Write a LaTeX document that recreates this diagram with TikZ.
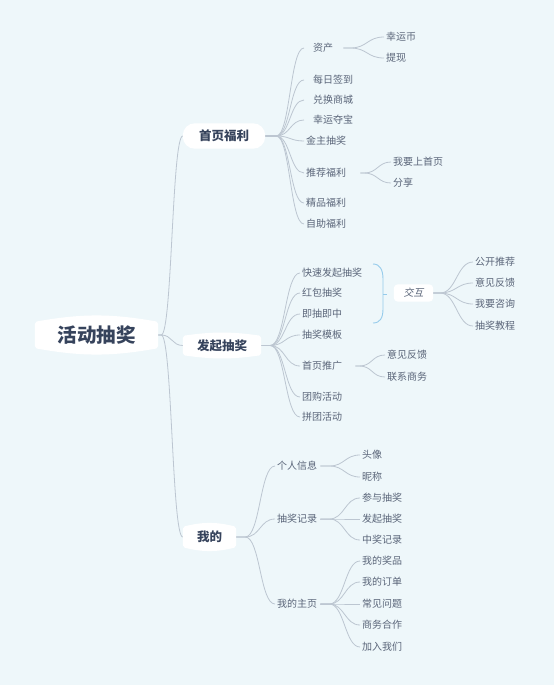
\documentclass[tikz,border=0pt]{standalone}
\usepackage{fontspec}
\setmainfont{Noto Sans CJK SC}[AutoFakeSlant=0.2]
\usetikzlibrary{backgrounds}

\definecolor{paper}{HTML}{EEF7FA}
\definecolor{wire}{HTML}{BCC6D1}
\definecolor{leafink}{HTML}{5A6579}
\definecolor{topicink}{HTML}{36435C}
\definecolor{summary}{HTML}{95CBEB}

\tikzset{
  leaf/.style={anchor=west, inner xsep=2pt, inner ysep=1pt, text=leafink,
    font=\fontsize{10}{12}\selectfont},
  pad/.style={execute at begin node={\hspace*{7pt}}},
  topic/.style={inner sep=0pt, text=topicink,
    font=\fontsize{12.5}{14}\selectfont\bfseries},
  wire/.style={draw=wire, line width=0.8pt},
  fan/.style={out=0, in=180, distance=#1}
}

% white topic box with bulging top and bottom
\newcommand\bulgebox[2]{%
  \fill[white, rounded corners=2pt] (#1.north west) to[bend left=#2] (#1.north east)
    -- (#1.south east) to[bend left=#2] (#1.south west) -- cycle;}

\begin{document}
\begin{tikzpicture}[x=1pt, y=-1pt]
  \useasboundingbox (0,0) rectangle (554,685);

  \node[topic, font=\fontsize{19.5}{22}\selectfont\bfseries,
    minimum width=123pt, minimum height=26pt] (root) at (96.5,335) {活动抽奖};
  \node[topic, minimum width=82pt, minimum height=25pt] (home) at (224,136) {首页福利};
  \node[topic, minimum width=78pt, minimum height=19pt] (launch) at (222,345.5) {发起抽奖};
  \node[topic, minimum width=53pt, minimum height=20pt] (mine) at (209.5,537) {我的};

  % 首页福利
  \foreach \n/\y/\t in {h1/48/资产, h2/80/每日签到, h3/100/兑换商城, h4/120/幸运夺宝}
    \node[leaf, pad] (\n) at (304,\y) {\t};
  \foreach \n/\y/\t in {h5/141/金主抽奖, h6/173/推荐福利, h7/203/精品福利, h8/224/自助福利}
    \node[leaf] (\n) at (304,\y) {\t};
  \node[leaf] (h11) at (384,37) {幸运币};
  \node[leaf] (h12) at (384,58) {提现};
  \node[leaf] (h61) at (391,162) {我要上首页};
  \node[leaf] (h62) at (391,183) {分享};

  % 发起抽奖
  \foreach \n/\y/\t in {l1/273/快速发起抽奖, l2/293/红包抽奖, l3/314/即抽即中,
      l4/335/抽奖模板, l5/366/首页推广, l6/397/团购活动, l7/417/拼团活动}
    \node[leaf] (\n) at (300,\y) {\t};
  \node[leaf] (l51) at (385,355) {意见反馈};
  \node[leaf] (l52) at (385,377) {联系商务};
  \node[leaf, anchor=center, font=\fontsize{10}{12}\selectfont\itshape,
    minimum width=39pt, minimum height=17pt] (hub) at (413.5,293) {交互};
  \foreach \n/\y/\t in {x1/262/公开推荐, x2/283/意见反馈, x3/304/我要咨询, x4/326/抽奖教程}
    \node[leaf] (\n) at (473,\y) {\t};

  % 我的
  \foreach \n/\y/\t in {m1/466/个人信息, m2/519/抽奖记录, m3/604/我的主页}
    \node[leaf] (\n) at (275,\y) {\t};
  \foreach \n/\y/\t in {m11/455/头像, m12/477/昵称,
      m21/498/参与抽奖, m22/519/发起抽奖, m23/540/中奖记录,
      m31/561/我的奖品, m32/582/我的订单, m33/604/常见问题, m34/625/商务合作, m35/647/加入我们}
    \node[leaf] (\n) at (360,\y) {\t};

  \begin{scope}[on background layer]
    \fill[paper] (0,0) rectangle (554,685);

    \foreach \b in {home, launch, mine}
      \draw[wire] (root.east) -- ++(3,0) to[fan=11pt] (\b.west);
    \foreach \i in {1,...,8}
      \draw[wire] (home.east) -- ++(11,0) to[fan=14pt] (h\i.west);
    \foreach \i in {1,...,7}
      \draw[wire] (launch.east) -- ++(9,0) to[fan=15pt] (l\i.west);
    \foreach \i in {1,2,3}
      \draw[wire] (mine.east) -- ++(9,0) to[fan=15pt] (m\i.west);

    \foreach \i in {1,2}
      \draw[wire] ([xshift=8pt]h1.east) -- ++(7,0) to[fan=17pt] (h1\i.west);
    \foreach \i in {1,2}
      \draw[wire] ([xshift=12pt]h6.east) -- ++(4,0) to[fan=13pt] (h6\i.west);
    \foreach \i in {1,2}
      \draw[wire] ([xshift=11pt]l5.east) -- ++(4,0) to[fan=13pt] (l5\i.west);
    \foreach \i in {1,...,4}
      \draw[wire] (hub.east) -- ++(7,0) to[fan=16pt] (x\i.west);
    \foreach \i in {1,2}
      \draw[wire] ([xshift=1pt]m1.east) -- ++(9,0) to[fan=15pt] (m1\i.west);
    \foreach \i in {1,2,3}
      \draw[wire] ([xshift=1pt]m2.east) -- ++(9,0) to[fan=15pt] (m2\i.west);
    \foreach \i in {1,...,5}
      \draw[wire] ([xshift=1pt]m3.east) -- ++(9,0) to[fan=15pt] (m3\i.west);

    % summary brace over the first three
    \draw[summary, line width=0.9pt] (373,264) .. controls (380,264) and (383,270) .. (383,279)
      -- (383,309) .. controls (383,318) and (380,323) .. (373,323);
    \draw[summary, line width=0.9pt] (383,294) -- (387,294);

    \bulgebox{root}{10}
    \bulgebox{launch}{8}
    \bulgebox{mine}{14}
    \fill[white, rounded corners=12pt] (home.north west) rectangle (home.south east);
    \fill[white, rounded corners=4pt] (hub.north west) rectangle (hub.south east);
  \end{scope}
\end{tikzpicture}
\end{document}
